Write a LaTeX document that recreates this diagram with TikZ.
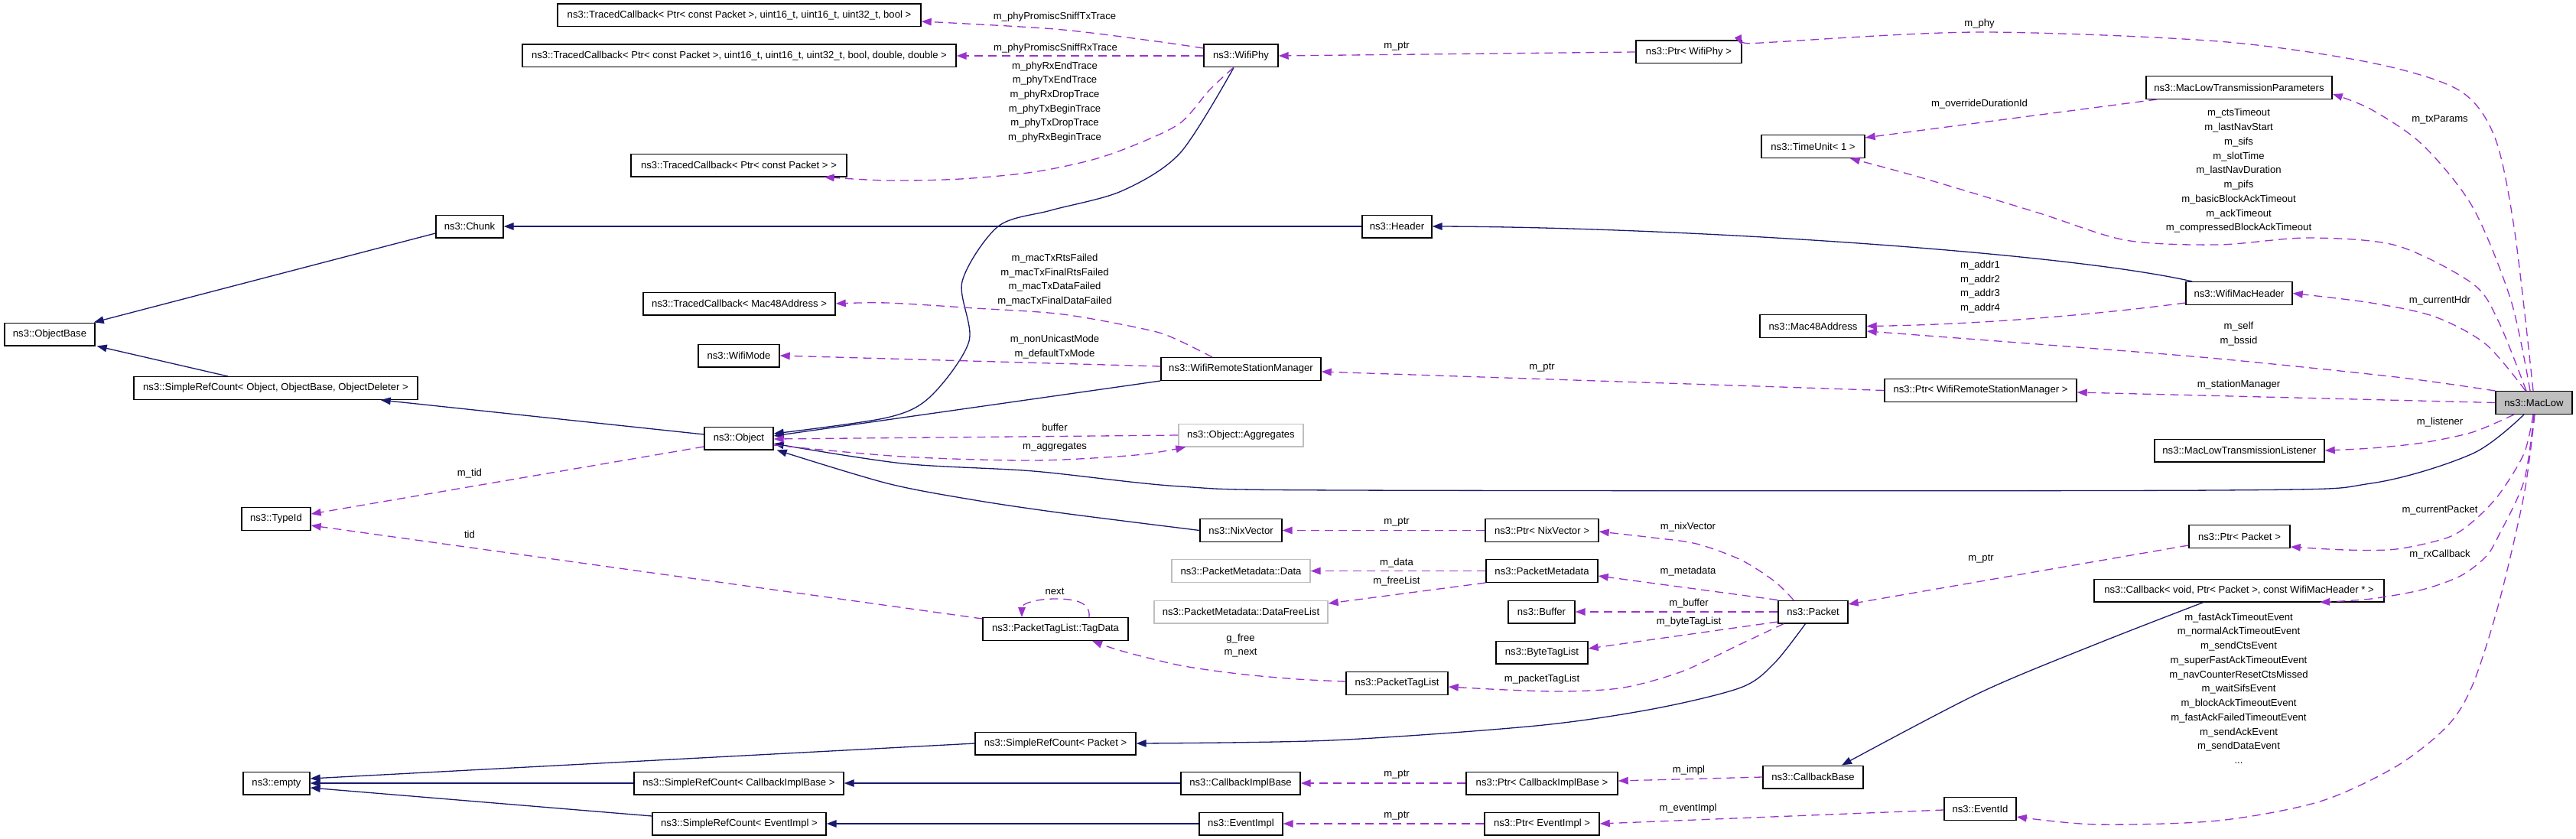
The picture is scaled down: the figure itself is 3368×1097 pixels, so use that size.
\documentclass[tikz,border=0pt]{standalone}
\usepackage{fontspec}
\setmainfont{Liberation Sans}
\usetikzlibrary{arrows.meta,calc}
\definecolor{navy}{HTML}{191970}
\definecolor{purp}{HTML}{9A32CD}
\definecolor{gbox}{HTML}{BFBFBF}
\tikzset{
 box/.style={draw=black, line width=0.7pt, rectangle, minimum height=14.8pt, inner sep=0pt, font=\fontsize{6.55}{8}\selectfont, fill=white},
 graybox/.style={box, draw=gbox},
 mainbox/.style={box, fill=gbox},
 inh/.style={draw=navy, line width=0.65pt, -{Triangle[length=6.5pt,width=4.8pt]}},
 use/.style={draw=purp, line width=0.65pt, dash pattern=on 5.5pt off 3.5pt, -{Triangle[length=6.5pt,width=4.8pt]}},
 lbl/.style={inner sep=0pt, align=center, font=\fontsize{6.55}{9.35}\selectfont},
}
\begin{document}
\begin{tikzpicture}[x=0.5pt,y=-0.5pt]
\useasboundingbox (0,0) rectangle (3368,1097);
% ---------- nodes ----------
\node[box, minimum width=237.5pt] (tcbool) at (966.5,20) {ns3::TracedCallback< Ptr< const Packet >, uint16\_t, uint16\_t, uint32\_t, bool >};
\node[box, minimum width=283.5pt] (tcdouble) at (966.5,73) {ns3::TracedCallback< Ptr< const Packet >, uint16\_t, uint16\_t, uint32\_t, bool, double, double >};
\node[box, minimum width=141pt] (tcpkt) at (966,216) {ns3::TracedCallback< Ptr< const Packet > >};
\node[box, minimum width=44pt] (chunk) at (614,296) {ns3::Chunk};
\node[box, minimum width=125.5pt] (tcmac) at (966.5,397) {ns3::TracedCallback< Mac48Address >};
\node[box, minimum width=53pt] (wifimode) at (966,465) {ns3::WifiMode};
\node[box, minimum width=59pt] (objectbase) at (65,437) {ns3::ObjectBase};
\node[box, minimum width=185.5pt] (srcobj) at (360.5,507.5) {ns3::SimpleRefCount< Object, ObjectBase, ObjectDeleter >};
\node[box, minimum width=45pt] (object) at (966,573) {ns3::Object};
\node[box, minimum width=45pt] (typeid) at (361,678.5) {ns3::TypeId};
\node[box, minimum width=43.5pt] (empty) at (361.5,1024) {ns3::empty};
\node[box, minimum width=137pt] (srccbi) at (966,1024) {ns3::SimpleRefCount< CallbackImplBase >};
\node[box, minimum width=113.5pt] (srcev) at (966.5,1077) {ns3::SimpleRefCount< EventImpl >};
\node[box, minimum width=48.5pt] (wifiphy) at (1622.5,73) {ns3::WifiPhy};
\node[box, minimum width=104.5pt] (wrsm) at (1622.5,482.5) {ns3::WifiRemoteStationManager};
\node[graybox, minimum width=81.5pt] (aggr) at (1622.5,569) {ns3::Object::Aggregates};
\node[box, minimum width=53.5pt] (nixvec) at (1622.5,693.5) {ns3::NixVector};
\node[graybox, minimum width=90.5pt] (pmdata) at (1622.5,746.5) {ns3::PacketMetadata::Data};
\node[graybox, minimum width=113.5pt] (pmfree) at (1622.5,800) {ns3::PacketMetadata::DataFreeList};
\node[box, minimum width=95pt] (tagdata) at (1380,822.5) {ns3::PacketTagList::TagData};
\node[box, minimum width=105pt] (srcpkt) at (1380,972) {ns3::SimpleRefCount< Packet >};
\node[box, minimum width=78pt] (cbi) at (1622,1024) {ns3::CallbackImplBase};
\node[box, minimum width=54.5pt] (eventimpl) at (1622.5,1077) {ns3::EventImpl};
\node[box, minimum width=45.5pt] (header) at (1826.5,296) {ns3::Header};
\node[box, minimum width=66.5pt] (ptaglist) at (1826.5,893.5) {ns3::PacketTagList};
\node[box, minimum width=74pt] (ptrnix) at (2016,693.5) {ns3::Ptr< NixVector >};
\node[box, minimum width=73pt] (pmeta) at (2016,746.5) {ns3::PacketMetadata};
\node[box, minimum width=43.5pt] (buffer) at (2015.5,800) {ns3::Buffer};
\node[box, minimum width=60pt] (btaglist) at (2016,853) {ns3::ByteTagList};
\node[box, minimum width=99pt] (ptrcbi) at (2016,1024) {ns3::Ptr< CallbackImplBase >};
\node[box, minimum width=75pt] (ptrev) at (2016,1077) {ns3::Ptr< EventImpl >};
\node[box, minimum width=69pt] (ptrphy) at (2208,68) {ns3::Ptr< WifiPhy >};
\node[box, minimum width=67.5pt] (timeunit) at (2370.5,191.5) {ns3::TimeUnit< 1 >};
\node[box, minimum width=69.5pt] (mac48) at (2370.5,426.5) {ns3::Mac48Address};
\node[box, minimum width=45.5pt] (packet) at (2370.5,800) {ns3::Packet};
\node[box, minimum width=65.5pt] (cbbase) at (2370.5,1016) {ns3::CallbackBase};
\node[box, minimum width=125.5pt] (ptrwrsm) at (2589.5,510.5) {ns3::Ptr< WifiRemoteStationManager >};
\node[box, minimum width=47pt] (eventid) at (2589,1057.5) {ns3::EventId};
\node[box, minimum width=121.5pt] (mltp) at (2927.5,114.5) {ns3::MacLowTransmissionParameters};
\node[box, minimum width=69.5pt] (wmh) at (2927.5,383.5) {ns3::WifiMacHeader};
\node[box, minimum width=111pt] (listener) at (2928,589) {ns3::MacLowTransmissionListener};
\node[box, minimum width=66pt] (ptrpkt) at (2928,701.5) {ns3::Ptr< Packet >};
\node[box, minimum width=189.5pt] (callback) at (2927.5,772) {ns3::Callback< void, Ptr< Packet >, const WifiMacHeader * >};
\node[mainbox, minimum width=50pt] (maclow) at (3313,526.5) {ns3::MacLow};
% ---------- inheritance ----------
\draw[inh] ([yshift=-4.5pt]chunk.west) -- ([xshift=-1pt]objectbase.north east);
\draw[inh] ([xshift=-31.25pt]srcobj.north) -- ([xshift=1pt]objectbase.south east);
\draw[inh] ([yshift=2.5pt]object.west) -- ([xshift=-24.5pt]srcobj.south east);
\draw[inh] (header.west) -- (chunk.east);
\draw[inh] ([xshift=4.5pt]wmh.north west) .. controls (2700,330) and (2200,297) .. (header.east);
\draw[inh] plot[smooth] coordinates {([xshift=-4.75pt]wifiphy.south) (1543,200) (1466,250) (1374,275) (1305,296) (1258,368) (1267,446) (1217,518) (1160,546) ([yshift=3pt]object.east)};
\draw[inh] (wrsm.south west) -- ([yshift=1.5pt]object.east);
\draw[inh] plot[smooth] coordinates {([xshift=-6.5pt]maclow.south) (3233,593) (3100,632) (2900,641) (1760,641) (1543,636) (1351,616) (1180,606) ([yshift=-3.5pt]object.east)};
\draw[inh] plot[smooth] coordinates {(nixvec.west) (1390,671) (1275,654) (1160,632) ([xshift=2pt]object.south east)};
\draw[inh] (srcpkt.west) -- ([yshift=3pt]empty.east);
\draw[inh] (srccbi.west) -- (empty.east);
\draw[inh] ([yshift=5pt]srcev.west) -- ([yshift=-3pt]empty.east);
\draw[inh] (cbi.west) -- (srccbi.east);
\draw[inh] (eventimpl.west) -- (srcev.east);
\draw[inh] plot[smooth] coordinates {([xshift=-5pt]packet.south) (2320,867) (2276,899) (2161,927) (2008,949) (1740,968) (srcpkt.east)};
\draw[inh] plot[smooth] coordinates {([xshift=-23.25pt]callback.south) (2741,842) (2588,906) ([xshift=18.75pt]cbbase.north)};
% ---------- usage ----------
\draw[use] plot[smooth] coordinates {([yshift=5pt]wifiphy.west) (1504,53) (1379,38) ([yshift=-4pt]tcbool.east)};
\draw[use] (wifiphy.west) -- (tcdouble.east);
\draw[use] plot[smooth] coordinates {([xshift=-5pt]wifiphy.south) (1581,118) (1543,161) (1485,189) (1428,209) (1351,225) (1256,234) (1160,236) ([xshift=-15pt]tcpkt.south east)};
\draw[use] (ptrphy.west) -- (wifiphy.east);
\draw[use] plot[smooth] coordinates {([xshift=-0.5pt]maclow.north) (3288,304) (3262,180) (3215,118) (3100,82) (2900,54) (2588,42) (2320,55) ([yshift=4.5pt]ptrphy.east)};
\draw[use] plot[smooth] coordinates {([xshift=-2.5pt]maclow.north) (3283,393) (3233,271) (3167,189) (3100,143) ([yshift=-4.25pt]mltp.east)};
\draw[use] ([xshift=7.5pt]mltp.south west) -- ([yshift=5.75pt]timeunit.east);
\draw[use] plot[smooth] coordinates {([xshift=-5pt]maclow.north) (3267,421) (3233,371) (3133,321) (3017,311) (2900,320) (2779,314) (2664,278) (2511,232) ([xshift=-10pt]timeunit.south east)};
\draw[use] ([yshift=-6.25pt]wmh.west) .. controls (2750,410) and (2600,424) .. (mac48.east);
\draw[use] plot[smooth] coordinates {(maclow.north west) (3133,493) (2900,469) (2703,453) ([yshift=-3.25pt]mac48.east)};
\draw[use] plot[smooth] coordinates {([xshift=-5.5pt]maclow.north) (3250,450) (3183,414) (3100,396) (wmh.east)};
\draw[use] (maclow.west) -- ([yshift=-1.25pt]ptrwrsm.east);
\draw[use] (ptrwrsm.west) -- ([yshift=-1.75pt]wrsm.east);
\draw[use] plot[smooth] coordinates {([xshift=-18.75pt]wrsm.north) (1543,446) (1504,432) (1390,411) (1275,403) (1160,396) (tcmac.east)};
\draw[use] ([yshift=1.75pt]wrsm.west) -- (wifimode.east);
\draw[use] (aggr.west) -- ([yshift=-0.5pt]object.east);
\draw[use] plot[smooth] coordinates {([yshift=-4.5pt]object.east) (1180,597) (1351,602) (1485,595) ([xshift=5pt]aggr.south west)};
\draw[use] ([yshift=-5.5pt]object.west) -- ([yshift=3.25pt]typeid.east);
\draw[use] ([yshift=6.75pt]tagdata.west) -- ([yshift=-4.25pt]typeid.east);
\draw[use] ($(tagdata.north)+(44,0)$) .. controls ($(tagdata.north)+(46,-20)$) and ($(tagdata.north)+(25,-24)$) .. ($(tagdata.north)+(0,-24)$) .. controls ($(tagdata.north)+(-25,-24)$) and ($(tagdata.north)+(-44,-18)$) .. ($(tagdata.north)+(-44,0)$);
\draw[use] plot[smooth] coordinates {([yshift=1.25pt]ptaglist.west) (1696,888) (1619,881) (1543,870) (1466,851) ([xshift=24pt]tagdata.south)};
\draw[use] plot[smooth] coordinates {([xshift=-12.75pt]packet.north) (2320,760) (2276,732) (2218,711) (2161,703) ([yshift=-0.75pt]ptrnix.east)};
\draw[use] (packet.north west) -- ([yshift=-3.25pt]pmeta.east);
\draw[use] (packet.west) -- (buffer.east);
\draw[use] ([yshift=-6.5pt]packet.west) -- ([yshift=2.5pt]btaglist.east);
\draw[use] plot[smooth] coordinates {([xshift=4pt]packet.south west) (2276,842) (2199,878) (2123,899) (2046,904) (1970,902) ([yshift=-2.25pt]ptaglist.east)};
\draw[use] (ptrnix.west) -- (nixvec.east);
\draw[use] (pmeta.west) -- (pmdata.east);
\draw[use] (pmeta.south west) -- ([yshift=5.5pt]pmfree.east);
\draw[use] plot[smooth] coordinates {([xshift=-13pt]maclow.south) (3233,565) (3167,579) (3100,586) (listener.east)};
\draw[use] plot[smooth] coordinates {([xshift=-0.5pt]maclow.south) (3300,593) (3267,647) (3233,682) (3200,703) (3133,718) (3067,719) ([yshift=-6.75pt]ptrpkt.east)};
\draw[use] plot[smooth] coordinates {(maclow.south) (3300,629) (3267,700) (3250,728) (3217,753) (3167,771) (3100,783) ([xshift=52.75pt]callback.south)};
\draw[use] ([yshift=-5.75pt]ptrpkt.west) -- ([yshift=5pt]packet.east);
\draw[use] plot[smooth] coordinates {([xshift=0.5pt]maclow.south) (3300,647) (3267,789) (3233,895) (3200,949) (3133,1002) (3033,1048) (2900,1073) (2741,1078) ([yshift=-5.25pt]eventid.east)};
\draw[use] ([yshift=-0.75pt]eventid.west) -- (ptrev.east);
\draw[use] (cbbase.west) -- ([yshift=1.5pt]ptrcbi.east);
\draw[use] (ptrcbi.west) -- (cbi.east);
\draw[use] (ptrev.west) -- (eventimpl.east);
% ---------- labels ----------
\node[lbl] (l1) at (1379,22.5) {m\_phyPromiscSniffTxTrace};
\node[lbl] (l2) at (1380,63) {m\_phyPromiscSniffRxTrace};
\node[lbl] (l3) at (1379,133.5) {m\_phyRxEndTrace\\m\_phyTxEndTrace\\m\_phyRxDropTrace\\m\_phyTxBeginTrace\\m\_phyTxDropTrace\\m\_phyRxBeginTrace};
\node[lbl] (l4) at (1826,61) {m\_ptr};
\node[lbl] (l5) at (2588,31) {m\_phy};
\node[lbl] (l6) at (2588,136) {m\_overrideDurationId};
\node[lbl, font=\fontsize{6.55}{9.375}\selectfont] (l7) at (2927,223.5) {m\_ctsTimeout\\m\_lastNavStart\\m\_sifs\\m\_slotTime\\m\_lastNavDuration\\m\_pifs\\m\_basicBlockAckTimeout\\m\_ackTimeout\\m\_compressedBlockAckTimeout};
\node[lbl] (l8) at (3190,156) {m\_txParams};
\node[lbl] (l9) at (3190,393) {m\_currentHdr};
\node[lbl] (l10) at (2589,375) {m\_addr1\\m\_addr2\\m\_addr3\\m\_addr4};
\node[lbl] (l11) at (2927,436.5) {m\_self\\m\_bssid};
\node[lbl] (l12) at (2927,503) {m\_stationManager};
\node[lbl] (l13) at (2016,481) {m\_ptr};
\node[lbl] (l14) at (1379,366) {m\_macTxRtsFailed\\m\_macTxFinalRtsFailed\\m\_macTxDataFailed\\m\_macTxFinalDataFailed};
\node[lbl] (l15) at (1379,453.5) {m\_nonUnicastMode\\m\_defaultTxMode};
\node[lbl] (l16) at (1379,559) {buffer};
\node[lbl] (l17) at (1379,585) {m\_aggregates};
\node[lbl] (l18) at (614,619) {m\_tid};
\node[lbl] (l19) at (614,699) {tid};
\node[lbl] (l20) at (1379,773) {next};
\node[lbl] (l21) at (1622,844) {g\_free\\m\_next};
\node[lbl] (l22) at (1826,683) {m\_ptr};
\node[lbl] (l23) at (2207,689) {m\_nixVector};
\node[lbl] (l24) at (1826,736) {m\_data};
\node[lbl] (l25) at (1826,760) {m\_freeList};
\node[lbl] (l26) at (2207,747) {m\_metadata};
\node[lbl] (l27) at (2208,789) {m\_buffer};
\node[lbl] (l28) at (2208,813) {m\_byteTagList};
\node[lbl] (l29) at (2016,888) {m\_packetTagList};
\node[lbl] (l30) at (1826,1013) {m\_ptr};
\node[lbl] (l31) at (2208,1007) {m\_impl};
\node[lbl] (l32) at (1826,1067) {m\_ptr};
\node[lbl] (l33) at (2207,1057) {m\_eventImpl};
\node[lbl] (l34) at (3190,552) {m\_listener};
\node[lbl] (l35) at (3190,667) {m\_currentPacket};
\node[lbl] (l36) at (3190,725) {m\_rxCallback};
\node[lbl] (l37) at (2590,731) {m\_ptr};
\node[lbl, font=\fontsize{6.55}{9.375}\selectfont] (l38) at (2927,900) {m\_fastAckTimeoutEvent\\m\_normalAckTimeoutEvent\\m\_sendCtsEvent\\m\_superFastAckTimeoutEvent\\m\_navCounterResetCtsMissed\\m\_waitSifsEvent\\m\_blockAckTimeoutEvent\\m\_fastAckFailedTimeoutEvent\\m\_sendAckEvent\\m\_sendDataEvent\\...};
\end{tikzpicture}
\end{document}
